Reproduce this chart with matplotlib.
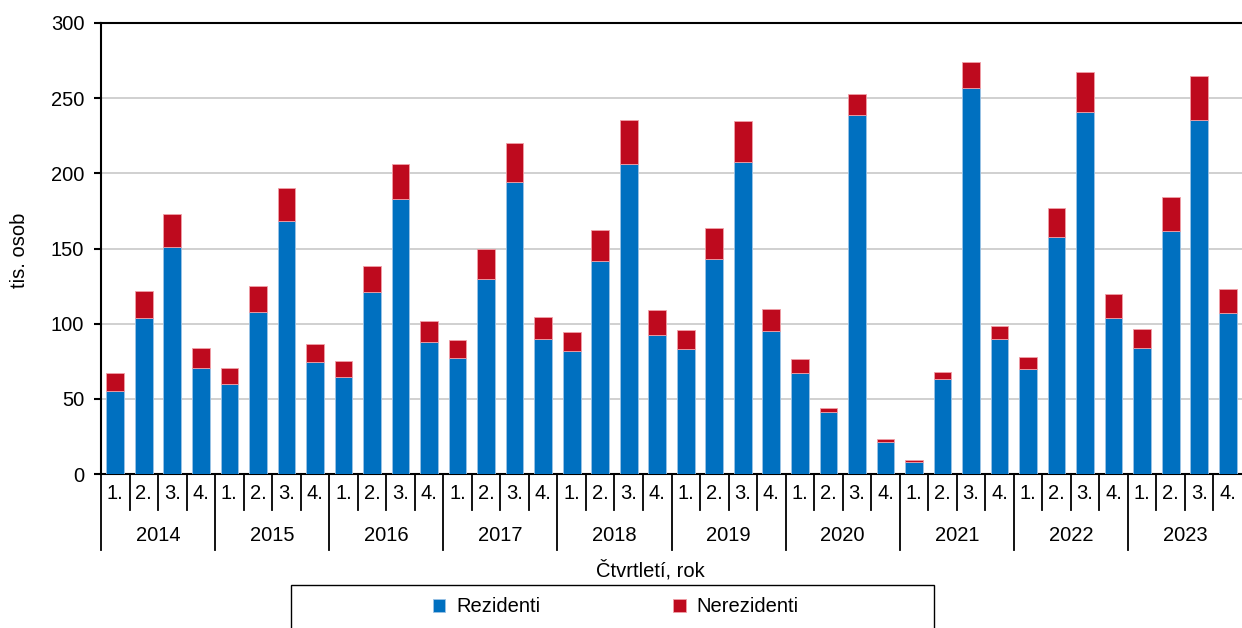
import numpy as np
import matplotlib.pyplot as plt
from matplotlib.patches import Rectangle
from matplotlib.transforms import blended_transform_factory

plt.rcParams['font.family'] = ['Liberation Sans', 'DejaVu Sans']
plt.rcParams['font.size'] = 14.5

years = ['2014', '2015', '2016', '2017', '2018', '2019', '2020', '2021', '2022', '2023']
quarters = ['1.', '2.', '3.', '4.']

# tis. osob
rezidenti = [55, 104, 151, 70.5,
             60, 108, 168, 74.5,
             64.5, 121, 183, 87.5,
             77, 130, 194, 89.5,
             82, 142, 206.5, 92.5,
             83, 143, 207.5, 95,
             67, 41.5, 238.5, 21,
             8, 63, 256.5, 89.5,
             70, 157.5, 241, 104,
             84, 161.5, 235.5, 107]
celkem = [67.5, 122, 173, 84,
          70.5, 125, 190, 86.5,
          75, 138.5, 206, 101.5,
          89, 149.5, 220, 104.5,
          94.5, 162.5, 235.5, 109,
          95.5, 163.5, 235, 110,
          76.5, 44, 252.5, 23,
          9.5, 68, 274, 98.5,
          78, 177, 267.5, 119.5,
          96.5, 184.5, 265, 123]
nerezidenti = [c - r for c, r in zip(celkem, rezidenti)]

blue = '#0070c0'
red = '#be0a1e'

fig = plt.figure(figsize=(12.42, 6.28), dpi=100)
ax = fig.add_axes([101/1242, 1-474/628, 1-101/1242, 451/628])

x = np.arange(len(rezidenti))
ax.bar(x, rezidenti, width=0.62, color=blue, edgecolor='#9cc3e6', linewidth=0.6,
       label='Rezidenti', zorder=3)
ax.bar(x, nerezidenti, bottom=rezidenti, width=0.62, color=red, edgecolor='#f0a0a8',
       linewidth=0.6, label='Nerezidenti', zorder=3)

ax.set_xlim(-0.5, len(x) - 0.5)
ax.set_ylim(0, 300)
ax.set_yticks(range(0, 301, 50))
ax.yaxis.grid(True, color='#c8c8c8', linewidth=1.2, zorder=0)
ax.set_xticks([])
ax.tick_params(axis='y', direction='out', length=5, width=1.5, pad=7)
for s in ['left', 'bottom', 'top']:
    ax.spines[s].set_linewidth(1.5)
ax.spines['right'].set_visible(False)
ax.set_ylabel('tis. osob')
ax.yaxis.set_label_coords(29/1242, 1-250/628, transform=fig.transFigure)

# two-level category axis
trans = blended_transform_factory(ax.transData, ax.transAxes)
for i in range(len(x)):
    ax.text(i, -0.044, quarters[i % 4], transform=trans, ha='center', va='center')
    if i % 4 == 0:
        ax.plot([i - 0.5, i - 0.5], [0, -0.169], transform=trans, color='black',
                linewidth=1.3, clip_on=False)
    else:
        ax.plot([i - 0.5, i - 0.5], [0, -0.08], transform=trans, color='black',
                linewidth=1.3, clip_on=False)
for j, yr in enumerate(years):
    ax.text(4 * j + 1.5, -0.137, yr, transform=trans, ha='center', va='center')

fig.text(650/1242, 1-570/628, 'Čtvrtletí, rok', ha='center', va='center')

# legend box
fig.patches.append(Rectangle((291/1242, -0.05), (934-291)/1242, 0.05 + 1-585/628,
                             transform=fig.transFigure, fill=False, edgecolor='black',
                             linewidth=1))
fig.legend(loc='center', bbox_to_anchor=(616/1242, 1-607/628), ncol=2, frameon=False,
           handlelength=0.6, handleheight=0.6, handletextpad=0.55, columnspacing=6.6)

fig.savefig('out.png', dpi=100)
